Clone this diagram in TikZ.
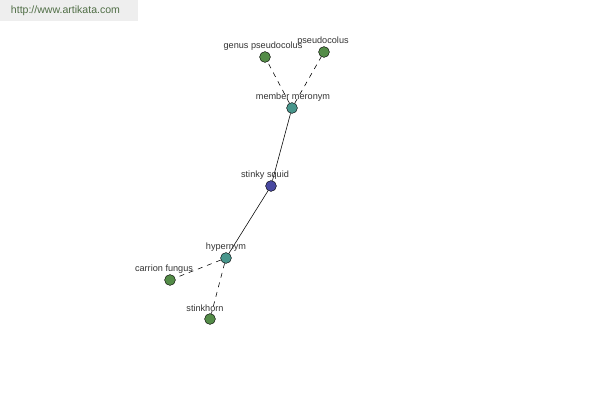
\documentclass[tikz,border=0pt]{standalone}
\usepackage{fontspec}
\setmainfont{Liberation Sans}
\definecolor{leafgreen}{RGB}{84,140,72}
\definecolor{hubteal}{RGB}{72,150,140}
\definecolor{rootblue}{RGB}{72,72,160}
\definecolor{marktext}{RGB}{80,110,70}
\definecolor{markback}{RGB}{238,238,238}
\begin{document}
\begin{tikzpicture}[x=0.025cm, y=-0.025cm,
  dot/.style={circle, draw=black, line width=0.3pt, minimum size=0.27cm, inner sep=0pt},
  leaf/.style={dot, fill=leafgreen},
  hub/.style={dot, fill=hubteal},
  root/.style={dot, fill=rootblue},
  lbl/.style={font=\fontsize{6.5}{7}\selectfont, text=black!80, inner sep=0.5pt},
  link/.style={line width=0.4pt},
  rel/.style={line width=0.4pt, dash pattern=on 3.5pt off 3.5pt}]
\useasboundingbox (0,0) rectangle (600,400);
\fill[markback] (0,0) rectangle (138,21);
\node[text=marktext, font=\fontsize{7.5}{9}\selectfont, anchor=west] (site) at (6,11) {http://www.artikata.com};
\node[root] (squid) at (271,186) {};
\node[hub] (meronym) at (292,108) {};
\node[hub] (hypernym) at (226,258) {};
\node[leaf] (genus) at (265,57) {};
\node[leaf] (pseudo) at (324,52) {};
\node[leaf] (carrion) at (170,280) {};
\node[leaf] (stinkhorn) at (210,319) {};
\draw[link] (squid) -- (meronym);
\draw[link] (squid) -- (hypernym);
\draw[rel] (meronym) -- (genus);
\draw[rel] (meronym) -- (pseudo);
\draw[rel] (hypernym) -- (carrion);
\draw[rel] (hypernym) -- (stinkhorn);
\node[lbl] (squid_l) at (265,175) {stinky squid};
\node[lbl] (meronym_l) at (293,97) {member meronym};
\node[lbl] (hypernym_l) at (226,247) {hypernym};
\node[lbl] (genus_l) at (263,46) {genus pseudocolus};
\node[lbl] (pseudo_l) at (323,41) {pseudocolus};
\node[lbl] (carrion_l) at (164,269) {carrion fungus};
\node[lbl] (stinkhorn_l) at (205,308) {stinkhorn};
\end{tikzpicture}
\end{document}
